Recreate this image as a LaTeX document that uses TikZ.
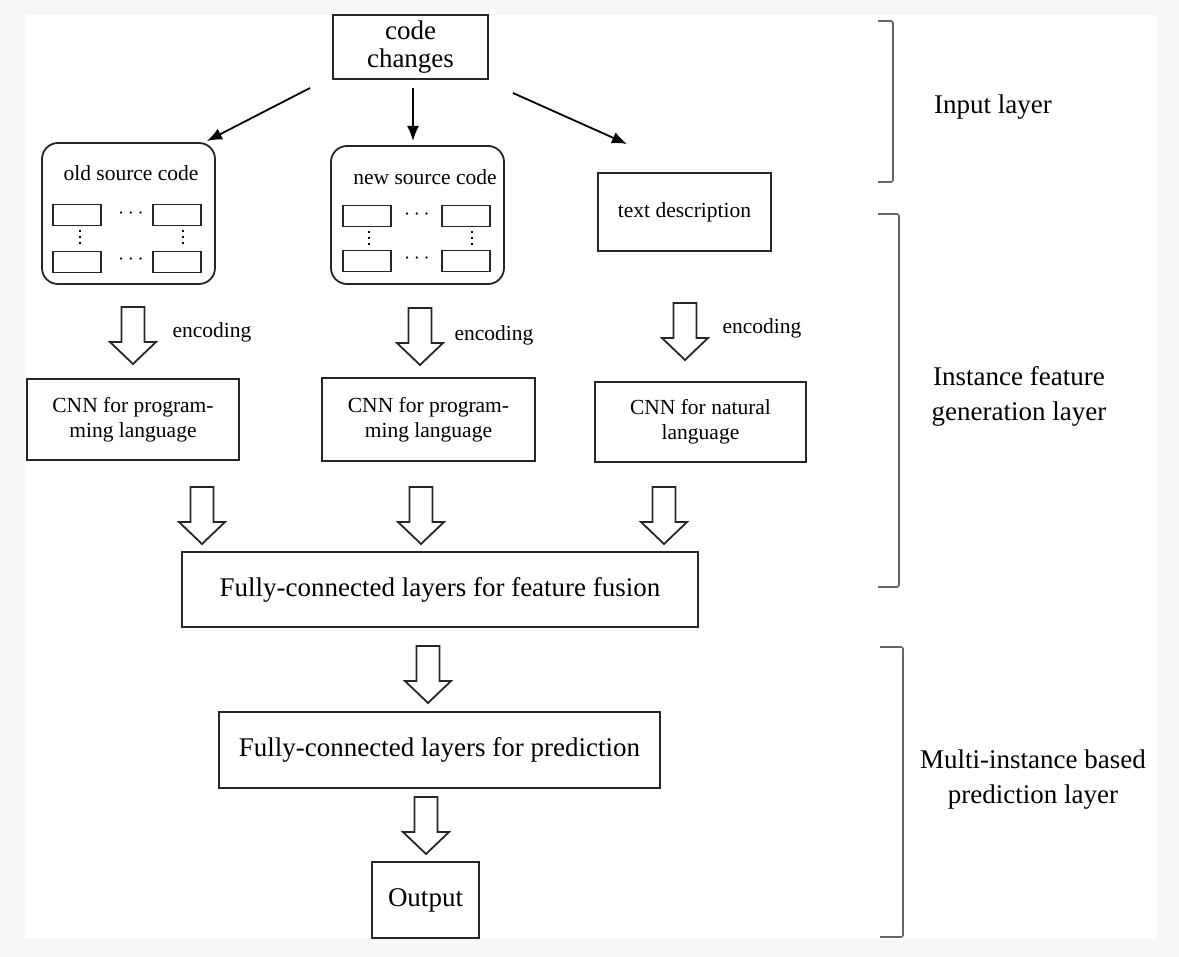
\documentclass[tikz,border=0pt]{standalone}
\usepackage{fontspec}
\setmainfont{Liberation Serif}
\usetikzlibrary{arrows.meta}

\newcommand{\bigtext}{\fontsize{13.5}{14}\selectfont}
\newcommand{\smalltext}{\fontsize{10.75}{12.5}\selectfont}

\begin{document}
\begin{tikzpicture}[x=0.5pt, y=-0.5pt,
      box/.style={draw=black!85, line width=0.9pt, inner sep=0pt, align=center},
      big/.style={box, font=\bigtext},
      small/.style={box, font=\smalltext},
      codebox/.style={draw=black!85, line width=0.9pt, rounded corners=8pt,
                      inner sep=0pt, minimum width=86.5pt},
      cell/.style={draw=black!85, line width=0.7pt, inner sep=0pt,
                   minimum width=24pt, minimum height=10.5pt},
      hdots/.style={font=\smalltext, inner sep=0pt},
      vdots/.style={line width=1pt, dash pattern=on 1pt off 2pt,
                    shorten <=2pt, shorten >=2pt},
      arrow/.style={-{Latex[length=7.5pt,width=6pt]}, line width=0.9pt},
      bracket/.style={draw=black!60, line width=0.8pt, rounded corners=1pt},
      layer/.style={align=center, inner sep=0pt,
                    font=\fontsize{13.5}{17.5}\selectfont},
      hollow/.pic={\draw[line width=0.9pt, draw=black!85, fill=white]
        (-11.5,0) -- (-11.5,35) -- (-23,35) -- (0,57) -- (23,35)
        -- (11.5,35) -- (11.5,0) -- cycle;}]
    \fill[black!3] (0,0) rectangle (1179,957);
    \fill[white] (25,15) rectangle (1157,939);
    \useasboundingbox (0,0) rectangle (1179,957);

    \node[big, minimum width=77.5pt, minimum height=32pt] (cc) at (410.5,47) {code\\changes};

    \node[codebox, minimum height=70.5pt] (old) at (128.5,213.5) {};
    \node[codebox, minimum height=69pt] (new) at (417.5,215) {};
    \node[small, minimum width=86.5pt, minimum height=39pt] (txt) at (684.5,212) {text description};
    \node[font=\smalltext, inner sep=0pt] (oldlbl) at (131,173) {old source code};
    \node[font=\smalltext, inner sep=0pt] (newlbl) at (425,177) {new source code};

    \node[cell] (o11) at (77,215) {};
    \node[cell] (o12) at (177,215) {};
    \node[cell] (o21) at (77,262) {};
    \node[cell] (o22) at (177,262) {};
    \node[hdots] (oh1) at (131,214) {$\cdots$};
    \node[hdots] (oh2) at (131,260) {$\cdots$};
    \draw[vdots] ([xshift=1.5pt]o11.south) -- ([xshift=1.5pt]o21.north);
    \draw[vdots] ([xshift=3pt]o12.south) -- ([xshift=3pt]o22.north);

    \node[cell] (n11) at (367,216) {};
    \node[cell] (n12) at (466,216) {};
    \node[cell] (n21) at (367,261) {};
    \node[cell] (n22) at (466,261) {};
    \node[hdots] (nh1) at (417,215) {$\cdots$};
    \node[hdots] (nh2) at (417,259) {$\cdots$};
    \draw[vdots] ([xshift=1pt]n11.south) -- ([xshift=1pt]n21.north);
    \draw[vdots] ([xshift=3pt]n12.south) -- ([xshift=3pt]n22.north);

    \coordinate (a1s) at (310,88);
    \coordinate (a1e) at (207,141);
    \coordinate (a2s) at (413,88);
    \coordinate (a2e) at (413,141);
    \coordinate (a3s) at (513,93);
    \coordinate (a3e) at (627,144);
    \draw[arrow] (a1s) -- (a1e);
    \draw[arrow] (a2s) -- (a2e);
    \draw[arrow] (a3s) -- (a3e);

    \pic (encL) at (133,307) {hollow};
    \pic (encM) at (420,308) {hollow};
    \pic (encR) at (685,303) {hollow};
    \node[font=\smalltext, inner sep=0pt] (encLlbl) at (212,332) {encoding};
    \node[font=\smalltext, inner sep=0pt] (encMlbl) at (494,335) {encoding};
    \node[font=\smalltext, inner sep=0pt] (encRlbl) at (762,328) {encoding};

    \node[small, minimum width=106pt, minimum height=40.5pt] (cnnL) at (133,419.5) {CNN for program-\\ming language};
    \node[small, minimum width=106.5pt, minimum height=41.5pt] (cnnM) at (428.5,419.5) {CNN for program-\\ming language};
    \node[small, minimum width=105.5pt, minimum height=40pt] (cnnR) at (700.5,422) {CNN for natural\\language};

    \pic (mrgL) at (202,487) {hollow};
    \pic (mrgM) at (421,487) {hollow};
    \pic (mrgR) at (664,487) {hollow};

    \node[big, minimum width=258pt, minimum height=37.5pt] (fuse) at (440,589.5) {Fully-connected layers for feature fusion};
    \pic (toPred) at (428,646) {hollow};
    \node[big, minimum width=220.5pt, minimum height=38pt] (pred) at (439.5,750) {Fully-connected layers for prediction};
    \pic (toOut) at (426,797) {hollow};
    \node[big, minimum width=53.5pt, minimum height=38pt] (out) at (425.5,900) {Output};

    \draw[bracket] (878,21) -- (893,21) -- (893,182) -- (878,182);
    \draw[bracket] (878,214) -- (899,214) -- (899,587) -- (878,587);
    \draw[bracket] (880,647) -- (903,647) -- (903,937) -- (880,937);
    \node[layer] (inlayer) at (993,107) {Input layer};
    \node[layer] (featlayer) at (1019,396) {Instance feature\\generation layer};
    \node[layer] (predlayer) at (1033,780) {Multi-instance based\\prediction layer};
  \end{tikzpicture}
\end{document}
